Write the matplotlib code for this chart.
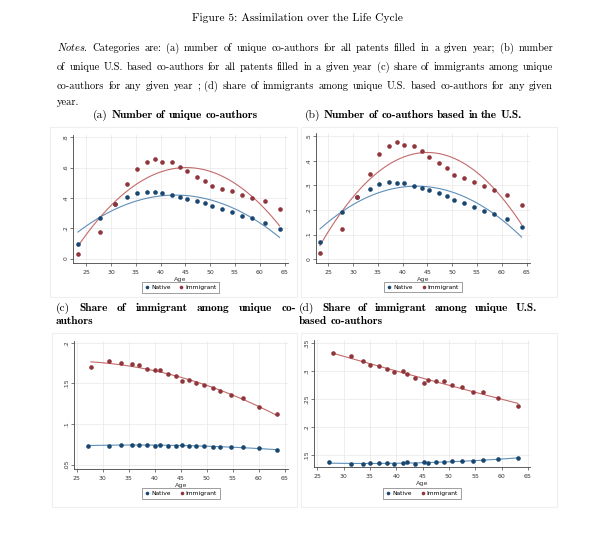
import numpy as np
import matplotlib
matplotlib.use('Agg')
import matplotlib.pyplot as plt
from matplotlib.lines import Line2D
from matplotlib.patches import Rectangle
from matplotlib.ticker import FuncFormatter

plt.rcParams['mathtext.fontset'] = 'cm'
plt.rcParams['axes.formatter.use_mathtext'] = True

W, H = 600, 536

# ---- data ----
age_ab = [23.3, 27.8, 30.8, 33.3, 35.3, 37.3, 38.8, 40.3, 42.3, 43.8,
          45.4, 47.4, 48.9, 50.4, 52.4, 54.4, 56.5, 58.5, 61.0, 64.0]
a_native = [0.095, 0.271, 0.357, 0.405, 0.432, 0.441, 0.436, 0.434, 0.419, 0.408,
            0.394, 0.381, 0.366, 0.346, 0.324, 0.304, 0.284, 0.267, 0.238, 0.196]
a_immig = [0.031, 0.174, 0.359, 0.489, 0.588, 0.635, 0.657, 0.639, 0.635, 0.604,
           0.575, 0.538, 0.513, 0.478, 0.458, 0.445, 0.421, 0.401, 0.379, 0.324]
b_native = [0.068, 0.190, 0.252, 0.287, 0.307, 0.314, 0.311, 0.310, 0.298, 0.289,
            0.280, 0.270, 0.258, 0.242, 0.227, 0.211, 0.197, 0.183, 0.162, 0.130]
b_immig = [0.024, 0.122, 0.253, 0.348, 0.428, 0.461, 0.478, 0.466, 0.463, 0.440,
           0.418, 0.390, 0.370, 0.342, 0.329, 0.315, 0.296, 0.281, 0.261, 0.221]

age_c_native = [27.1, 31.3, 33.6, 35.6, 37.0, 38.6, 40.0, 41.1, 42.6, 44.1,
                45.2, 46.6, 48.0, 49.5, 51.1, 52.5, 54.6, 57.0, 60.0, 63.4]
age_c_immig = [27.75] + age_c_native[1:]
c_native = [0.0734, 0.0734, 0.0747, 0.0747, 0.0747, 0.0742, 0.0734, 0.0738, 0.0734, 0.0734,
            0.0738, 0.0730, 0.0734, 0.0730, 0.0722, 0.0722, 0.0714, 0.0714, 0.0701, 0.0681]
c_immig = [0.1704, 0.1770, 0.1745, 0.1733, 0.1720, 0.1676, 0.1660, 0.1660, 0.1618, 0.1590,
           0.1528, 0.1540, 0.1500, 0.1474, 0.1440, 0.1410, 0.1355, 0.1318, 0.1207, 0.1129]

age_d_immig = [28.0, 31.4, 33.7, 35.1, 36.7, 38.2, 39.6, 41.2, 42.1, 43.6,
               45.2, 46.1, 47.6, 49.1, 50.5, 52.4, 54.5, 56.4, 59.3, 63.1]
age_d_native = [27.3] + age_d_immig[1:]
d_native = [0.1376, 0.1341, 0.1353, 0.1358, 0.1358, 0.1358, 0.1353, 0.1358, 0.1382, 0.1353,
            0.1382, 0.1370, 0.1382, 0.1388, 0.1394, 0.1394, 0.1400, 0.1411, 0.1429, 0.1459]
d_immig = [0.3311, 0.3270, 0.3180, 0.3100, 0.3087, 0.3028, 0.2975, 0.2993, 0.2951, 0.2880,
           0.2792, 0.2833, 0.2822, 0.2816, 0.2757, 0.2710, 0.2633, 0.2621, 0.2527, 0.2379]

x_ticks = [25, 30, 35, 40, 45, 50, 55, 60, 65]
a_yticks = [0, 0.2, 0.4, 0.6, 0.8]
b_yticks = [0, 0.1, 0.2, 0.3, 0.4, 0.5]
c_yticks = [0.05, 0.1, 0.15, 0.2]
d_yticks = [0.15, 0.2, 0.25, 0.3, 0.35]

title = "Figure 5: Assimilation over the Life Cycle"
notes_lines = [
    "Categories are: (a) number of unique co-authors for all patents filled in a given year; (b) number",
    "of unique U.S. based co-authors for all patents filled in a given year (c) share of immigrants among unique",
    "co-authors for any given year ; (d) share of immigrants among unique U.S. based co-authors for any given",
    "year.",
]

NAVY = '#1a476f'
MAROON = '#90353b'
NAVY_FIT = '#5f8fb8'
MAROON_FIT = '#c46a6a'

fig = plt.figure(figsize=(W / 100, H / 100), dpi=100)
renderer = fig.canvas.get_renderer()

reg = dict(family='cmr10', size=8.3)
note = dict(family='cmr10', size=7.5)
bold = dict(family='cmb10', size=8.2)


def put_line(words, x0, x1, yb, justify=True):
    items = [fig.text(0, 0, w, va='baseline', **kw) for w, kw in words]
    widths = [t.get_window_extent(renderer).width for t in items]
    if justify and len(items) > 1:
        gap = (x1 - x0 - sum(widths)) / (len(items) - 1)
    else:
        gap = 3.4
    x = x0
    for t, wd in zip(items, widths):
        t.set_position((x / W, 1 - yb / H))
        x += wd + gap


fig.text(297 / W, 1 - 21 / H, title, ha='center', va='baseline', **reg)

y_lines = [51, 70, 89, 105]
for i, line in enumerate(notes_lines):
    words = [(w, note) for w in line.split()]
    if i == 0:
        words = [(r'$\mathit{Notes}$.', note)] + words
    put_line(words, 57, 553, y_lines[i], justify=(i < len(notes_lines) - 1))

# sub-captions
put_line([('(a)', reg)] + [(w, bold) for w in "Number of unique co-authors".split()], 93, 0, 118, False)
put_line([('(b)', reg)] + [(w, bold) for w in "Number of co-authors based in the U.S.".split()], 305, 0, 118, False)
put_line([('(c)', reg)] + [(w, bold) for w in "Share of immigrant among unique co-".split()], 56, 296, 311)
put_line([('authors', bold)], 56, 0, 324, False)
put_line([('(d)', reg)] + [(w, bold) for w in "Share of immigrant among unique U.S.".split()], 299, 537, 311)
put_line([('based', bold), ('co-authors', bold)], 299, 0, 324, False)

# faint graph-region frames
for (x0, y0, x1, y1) in [(50, 127, 297, 297), (301, 127, 557, 297),
                         (52, 333, 297, 507), (301, 333, 557, 507)]:
    fig.patches.append(Rectangle((x0 / W, 1 - y1 / H), (x1 - x0) / W, (y1 - y0) / H,
                                 transform=fig.transFigure, fill=False,
                                 ec='#efefef', lw=0.8))


def fmt(v, pos):
    s = f'{v:g}'
    return s if s == '0' else s.lstrip('0')


def panel(box, xlim, ylim, yticks, series, leg_y):
    left, right, top, bottom = box
    ax = fig.add_axes([left / W, 1 - bottom / H, (right - left) / W, (bottom - top) / H])
    for age, vals, mc, lc in series:
        coef = np.polyfit(age, vals, 2)
        xs = np.linspace(min(age), max(age), 120)
        ax.plot(xs, np.polyval(coef, xs), color=lc, lw=0.8, zorder=2)
    for age, vals, mc, lc in series:
        ax.plot(age, vals, 'o', color=mc, ms=3.3, mew=0, zorder=3)
    ax.set_xlim(xlim)
    ax.set_ylim(ylim)
    ax.set_xticks(x_ticks)
    ax.set_yticks(yticks)
    ax.yaxis.set_major_formatter(FuncFormatter(fmt))
    ax.grid(True, color='#e8e8e8', lw=0.5)
    ax.set_axisbelow(True)
    for s in ['top', 'right']:
        ax.spines[s].set_visible(False)
    for s in ['left', 'bottom']:
        ax.spines[s].set_color('#444444')
        ax.spines[s].set_linewidth(0.6)
    ax.tick_params(length=2, width=0.5, color='#444444', pad=1.5,
                   labelsize=4.3, labelcolor='#333333')
    ax.tick_params(axis='y', labelrotation=90)
    for lbl in ax.get_yticklabels():
        lbl.set_va('center')
    ax.set_xlabel('Age', fontsize=4.6, labelpad=0.5, color='#333333')
    handles = [Line2D([], [], ls='', marker='o', color=NAVY, ms=2.6, mew=0),
               Line2D([], [], ls='', marker='o', color=MAROON, ms=2.6, mew=0)]
    leg = ax.legend(handles, ['Native', 'Immigrant'], loc='center',
                    bbox_to_anchor=(0.5, leg_y), ncol=2, fontsize=4.3,
                    frameon=True, fancybox=False, edgecolor='#555555',
                    handletextpad=0.3, columnspacing=1.4, borderpad=0.45,
                    handlelength=0.8)
    leg.get_frame().set_linewidth(0.5)
    return ax


panel((73, 288, 135, 263), (22.3, 65.7), (-0.029, 0.815), a_yticks,
      [(age_ab, a_native, NAVY, NAVY_FIT), (age_ab, a_immig, MAROON, MAROON_FIT)], -0.19)
panel((316, 530, 133, 263), (22.5, 65.7), (-0.016, 0.514), b_yticks,
      [(age_ab, b_native, NAVY, NAVY_FIT), (age_ab, b_immig, MAROON, MAROON_FIT)], -0.185)
panel((74, 288, 341, 469), (24.5, 65.6), (0.0447, 0.202), c_yticks,
      [(age_c_native, c_native, NAVY, NAVY_FIT), (age_c_immig, c_immig, MAROON, MAROON_FIT)], -0.19)
panel((314, 530, 340, 467), (24.4, 65.4), (0.1294, 0.355), d_yticks,
      [(age_d_native, d_native, NAVY, NAVY_FIT), (age_d_immig, d_immig, MAROON, MAROON_FIT)], -0.21)

fig.savefig('out.png', dpi=100)
